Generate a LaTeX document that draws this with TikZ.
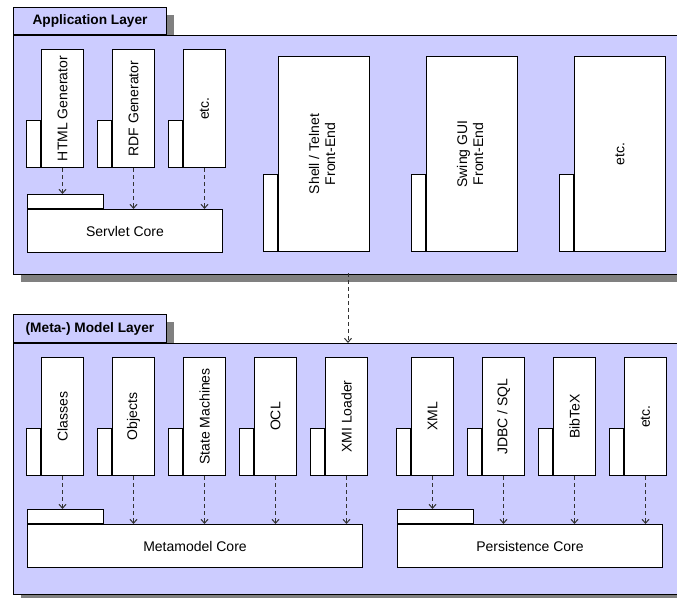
\documentclass[tikz,border=0pt]{standalone}
\usepackage{fontspec}
\setmainfont{Liberation Sans}
\usepackage{graphicx}
\usepackage{tikz}
\usetikzlibrary{arrows.meta, positioning, shadows}

\definecolor{pkgfill}{HTML}{CCCCFF}
\definecolor{pkgshadow}{HTML}{808080}
\definecolor{depgray}{HTML}{333333}

\begin{document}
\begin{tikzpicture}[x=1pt, y=-1pt,
            pkgtab/.style ={rectangle, draw=black, fill=pkgfill, line width=1pt, inner sep=0pt,
                            minimum width=153pt, minimum height=27pt,
                            font=\fontsize{13.7}{16}\selectfont\bfseries,
                            drop shadow={shadow xshift=7pt, shadow yshift=-7pt, opacity=1, fill=pkgshadow}},
            pkgbody/.style={pkgtab, minimum width=687pt},
            comp/.style   ={rectangle, draw=black, fill=white, line width=1pt, inner sep=0pt,
                            minimum width=42pt, minimum height=118pt, font=\fontsize{14}{16}\selectfont},
            bigcomp/.style={comp, minimum width=91pt, minimum height=195pt},
            core/.style   ={comp, minimum height=43pt},
            vtab/.style   ={rectangle, draw=black, fill=white, line width=1pt, inner sep=0pt,
                            minimum width=14pt, minimum height=47pt},
            htab/.style   ={vtab, minimum width=76pt, minimum height=14pt},
            dep/.style    ={draw=depgray, line width=1pt, dash pattern=on 4pt off 3pt,
                            -{Straight Barb[length=4pt, width=7pt]}}
        ]
            \clip (0,0) rectangle (677,597);

            % application layer
            \node[pkgtab, anchor=north west] (apptab) at (13,7) {Application Layer};
            \node[pkgbody, minimum height=239pt, anchor=north west] (appbody) at (apptab.south west) {};

            \node[comp, anchor=north west] (html) at (41,49) {\rotatebox{90}{HTML Generator}};
            \node[comp, right=28pt of html]   (rdf)     {\rotatebox{90}{RDF Generator}};
            \node[comp, right=28pt of rdf]    (genetc)  {\rotatebox{90}{etc.}};
            \node[vtab, anchor=south east] (htmltab)   at (html.south west)   {};
            \node[vtab, anchor=south east] (rdftab)    at (rdf.south west)    {};
            \node[vtab, anchor=south east] (genetctab) at (genetc.south west) {};

            \node[core, minimum width=195pt, anchor=north west] (servlet) at (27,209) {Servlet Core};
            \node[htab, anchor=south west] (servlettab) at (servlet.north west) {};

            \node[bigcomp, anchor=north west] (shell) at (278,56)
                {\rotatebox{90}{\begin{tabular}{@{}c@{}}Shell / Telnet\\Front-End\end{tabular}}};
            \node[bigcomp, right=56pt of shell] (swing)
                {\rotatebox{90}{\begin{tabular}{@{}c@{}}Swing GUI\\Front-End\end{tabular}}};
            \node[bigcomp, right=56pt of swing] (frontetc) {\rotatebox{90}{etc.}};
            \node[vtab, minimum height=77pt, anchor=south east] (shelltab)    at (shell.south west)    {};
            \node[vtab, minimum height=77pt, anchor=south east] (swingtab)    at (swing.south west)    {};
            \node[vtab, minimum height=77pt, anchor=south east] (frontetctab) at (frontetc.south west) {};

            \draw[dep] (html.south)   -- (html.south |- servlettab.north);
            \draw[dep] (rdf.south)    -- (rdf.south |- servlet.north);
            \draw[dep] (genetc.south) -- (genetc.south |- servlet.north);

            % (meta-) model layer
            \node[pkgtab, minimum height=28pt, anchor=north west] (modeltab) at (13,314) {(Meta-) Model Layer};
            \node[pkgbody, minimum height=251pt, anchor=north west] (modelbody) at (modeltab.south west) {};

            \node[comp, anchor=north west] (classes) at (41,357) {\rotatebox{90}{Classes}};
            \node[comp, right=28pt of classes] (objects) {\rotatebox{90}{Objects}};
            \node[comp, right=28pt of objects] (statem)  {\rotatebox{90}{State Machines}};
            \node[comp, right=28pt of statem]  (ocl)     {\rotatebox{90}{OCL}};
            \node[comp, right=28pt of ocl]     (xmi)     {\rotatebox{90}{XMI Loader}};
            \node[vtab, anchor=south east] (classestab) at (classes.south west) {};
            \node[vtab, anchor=south east] (objectstab) at (objects.south west) {};
            \node[vtab, anchor=south east] (statemtab)  at (statem.south west)  {};
            \node[vtab, anchor=south east] (ocltab)     at (ocl.south west)     {};
            \node[vtab, anchor=south east] (xmitab)     at (xmi.south west)     {};

            \node[comp, anchor=north west] (xml) at (411,357) {\rotatebox{90}{XML}};
            \node[comp, right=28pt of xml]    (jdbc)    {\rotatebox{90}{JDBC / SQL}};
            \node[comp, right=28pt of jdbc]   (bibtex)  {\rotatebox{90}{BibTeX}};
            \node[comp, right=28pt of bibtex] (persetc) {\rotatebox{90}{etc.}};
            \node[vtab, anchor=south east] (xmltab)     at (xml.south west)     {};
            \node[vtab, anchor=south east] (jdbctab)    at (jdbc.south west)    {};
            \node[vtab, anchor=south east] (bibtextab)  at (bibtex.south west)  {};
            \node[vtab, anchor=south east] (persetctab) at (persetc.south west) {};

            \node[core, minimum width=335pt, anchor=north west] (metacore) at (27,524) {Metamodel Core};
            \node[htab, anchor=south west] (metatab) at (metacore.north west) {};
            \node[core, minimum width=265pt, anchor=north west] (perscore) at (397,524) {Persistence Core};
            \node[htab, anchor=south west] (perstab) at (perscore.north west) {};

            \draw[dep] (classes.south) -- (classes.south |- metatab.north);
            \draw[dep] (objects.south) -- (objects.south |- metacore.north);
            \draw[dep] (statem.south)  -- (statem.south |- metacore.north);
            \draw[dep] (ocl.south)     -- (ocl.south |- metacore.north);
            \draw[dep] (xmi.south)     -- (xmi.south |- metacore.north);
            \draw[dep] (xml.south)     -- (xml.south |- perstab.north);
            \draw[dep] (jdbc.south)    -- (jdbc.south |- perscore.north);
            \draw[dep] (bibtex.south)  -- (bibtex.south |- perscore.north);
            \draw[dep] (persetc.south) -- (persetc.south |- perscore.north);

            % layer dependency
            \coordinate (applink) at (348,273);
            \draw[dep] (applink) -- (applink |- modelbody.north);
        \end{tikzpicture}
\end{document}
